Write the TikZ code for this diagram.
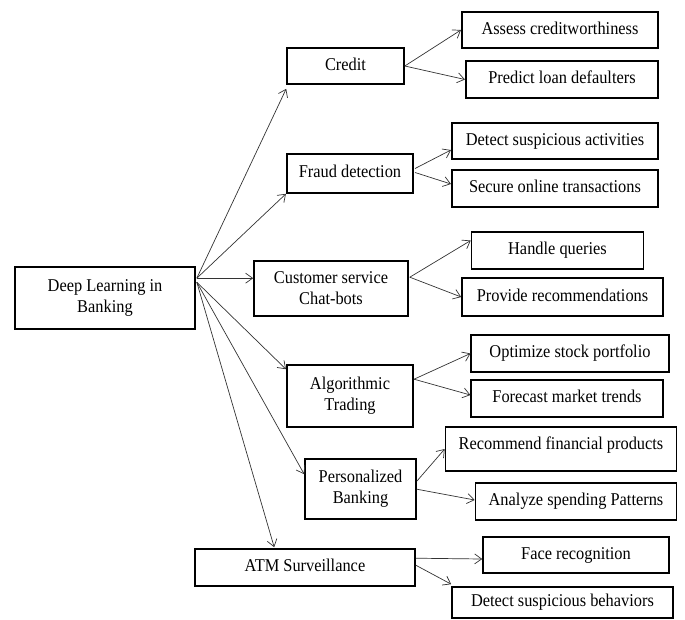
\documentclass[tikz,border=0pt]{standalone}
\usepackage{fontspec}
\setmainfont[FakeStretch=0.91]{Liberation Serif}
\usetikzlibrary{arrows.meta,calc}
\begin{document}
\begin{tikzpicture}[x=1pt,y=-1pt,
  bx/.style={draw, line width=1.6pt, inner sep=0pt, font=\fontsize{18}{21}\selectfont, align=center},
  one/.style={text height=12.5pt, text depth=4.5pt},
  arr/.style={line width=0.7pt, draw=black!80, -{Straight Barb[length=7pt,width=10pt,line width=0.7pt]}}]
\useasboundingbox (0,0) rectangle (685,619);
% main
\node[bx, minimum width=180pt, minimum height=62pt] (dl) at (105,298) {Deep Learning in\\Banking};
% level 1
\node[bx, one, minimum width=117pt, minimum height=36pt] (credit) at (345.5,66) {Credit};
\node[bx, one, minimum width=126.5pt, minimum height=39pt] (fraud) at (350,173.5) {Fraud detection};
\node[bx, minimum width=154pt, minimum height=55pt] (cs) at (331,288.5) {Customer service\\Chat-bots};
\node[bx, minimum width=126.5pt, minimum height=62pt] (algo) at (350,396) {Algorithmic\\Trading};
\node[bx, minimum width=111pt, minimum height=60pt] (pb) at (360.5,489) {Personalized\\Banking};
\node[bx, one, minimum width=220pt, minimum height=37pt] (atm) at (305,567.5) {ATM Surveillance};
% level 2
\node[bx, one, minimum width=196.5pt, minimum height=36pt] (assess) at (560,30) {Assess creditworthiness};
\node[bx, one, minimum width=192.5pt, minimum height=37pt] (predict) at (562,79.5) {Predict loan defaulters};
\node[bx, one, minimum width=206.5pt, minimum height=36pt] (detecta) at (555,141) {Detect suspicious activities};
\node[bx, one, minimum width=206.5pt, minimum height=37pt] (secure) at (555,188.5) {Secure online transactions};
\node[bx, one, minimum width=172pt, minimum height=37pt] (handle) at (557.5,250.5) {Handle queries};
\node[bx, one, minimum width=201pt, minimum height=38pt] (provide) at (562.5,297) {Provide recommendations};
\node[bx, one, minimum width=197.5pt, minimum height=37pt] (optimize) at (570,353.5) {Optimize stock portfolio};
\node[bx, one, minimum width=191.5pt, minimum height=37pt] (forecast) at (567,398.5) {Forecast market trends};
\node[bx, one, minimum width=231pt, minimum height=44pt] (recommend) at (561,449) {\raisebox{4pt}[\height][\depth]{Recommend financial products}};
\node[bx, one, minimum width=201pt, minimum height=37pt] (analyze) at (576,501.5) {Analyze spending Patterns};
\node[bx, one, minimum width=186pt, minimum height=36pt] (face) at (576,555) {Face recognition};
\node[bx, one, minimum width=221pt, minimum height=31pt] (detectb) at (562.5,602.5) {Detect suspicious behaviors};
% fan from main
\draw[arr] ($(dl.north east)+(1,12)$) -- ($(credit.south west)+(0,4)$);
\draw[arr] ($(dl.north east)+(1,12)$) -- (fraud.south west);
\draw[arr] ($(dl.north east)+(1,12)$) -- ($(cs.north west)+(0,18)$);
\draw[arr] ($(dl.north east)+(1,16)$) -- ($(algo.north west)+(0,5)$);
\draw[arr] ($(dl.north east)+(1,16)$) -- ($(pb.north west)+(0,16)$);
\draw[arr] ($(dl.north east)+(1,16)$) -- ($(atm.north west)+(80,-1)$);
% children
\draw[arr] (credit.east) -- (assess.west);
\draw[arr] (credit.east) -- (predict.west);
\draw[arr] ($(fraud.east)+(1,-5)$) -- ($(detecta.west)+(0,9)$);
\draw[arr] ($(fraud.east)+(1,-1)$) -- ($(secure.west)+(0,-4.5)$);
\draw[arr] ($(cs.north east)+(1,17)$) -- ($(handle.west)+(0,-10)$);
\draw[arr] ($(cs.north east)+(1,17)$) -- (provide.west);
\draw[arr] ($(algo.north east)+(0,15)$) -- (optimize.west);
\draw[arr] ($(algo.north east)+(0,15)$) -- ($(forecast.west)+(0,-3.5)$);
\draw[arr] ($(pb.north east)+(0,23)$) -- (recommend.west);
\draw[arr] ($(pb.north east)+(0,31)$) -- ($(analyze.west)+(0,-1.5)$);
\draw[arr] ($(atm.north east)+(0,10)$) -- ($(face.west)+(0,4)$);
\draw[arr] ($(atm.north east)+(0,17)$) -- ($(detectb.north west)+(0,-2)$);
\end{tikzpicture}
\end{document}
